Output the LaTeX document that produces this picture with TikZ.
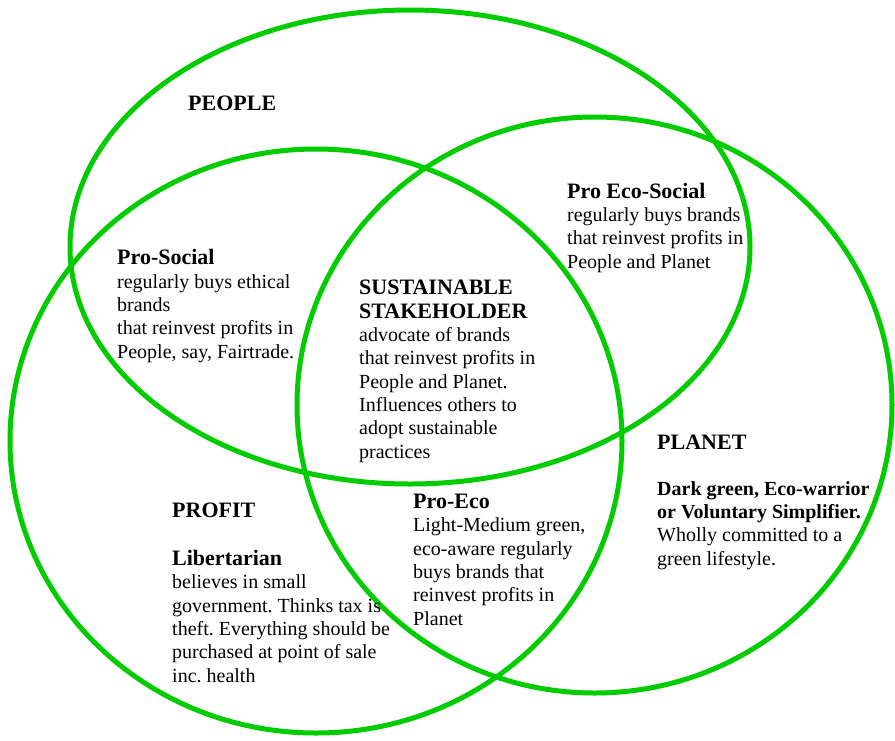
\documentclass[tikz,border=0pt]{standalone}
\usepackage{fontspec}
\setmainfont{Liberation Serif}
\usepackage{tikz}
\frenchspacing

\definecolor{ringgreen}{RGB}{0,204,0}
\newcommand{\hd}[1]{{\fontsize{22}{23.3}\selectfont\bfseries #1}}

\tikzset{
  ring/.style={draw=ringgreen, line width=5pt},
  txt/.style={anchor=base west, align=left, inner sep=0pt,
    font=\fontsize{20}{23.3}\selectfont}
}

\begin{document}
\begin{tikzpicture}[x=1pt, y=-1pt]
\useasboundingbox (0,0) rectangle (895,740);
% the three circles
\draw[ring] (410,247) ellipse (340 and 237);
\draw[ring] (316,441) ellipse (306 and 292);
\draw[ring] (594.5,405) ellipse (297.5 and 288);
% labels (base = last line)
\node[txt] (people) at (188,110) {\hd{PEOPLE}};
\node[txt] (profit) at (172,517) {\hd{PROFIT}};
\node[txt] (planet) at (657,449) {\hd{PLANET}};
\node[txt] (social) at (117,358) {\hd{Pro-Social}\\regularly buys ethical\\brands\\that reinvest profits in\\People, say, Fairtrade.};
\node[txt] (ecosocial) at (567,268) {\hd{Pro Eco-Social}\\regularly buys brands\\that reinvest profits in\\People and Planet};
\node[txt] (stake) at (359,458) {\hd{SUSTAINABLE}\\\hd{STAKEHOLDER}\\advocate of brands\\that reinvest profits in\\People and Planet.\\Influences others to\\adopt sustainable\\practices};
\node[txt] (liber) at (172,682) {\hd{Libertarian}\\believes in small\\government. Thinks tax is\\theft. Everything should be\\purchased at point of sale\\inc. health};
\node[txt] (eco) at (413,625) {\hd{Pro-Eco}\\Light-Medium green,\\eco-aware regularly\\buys brands that\\reinvest profits in\\Planet};
\node[txt] (warrior) at (657,565) {\textbf{Dark green, Eco-warrior}\\\textbf{or Voluntary Simplifier.}\\Wholly committed to a\\green lifestyle.};
\end{tikzpicture}
\end{document}
